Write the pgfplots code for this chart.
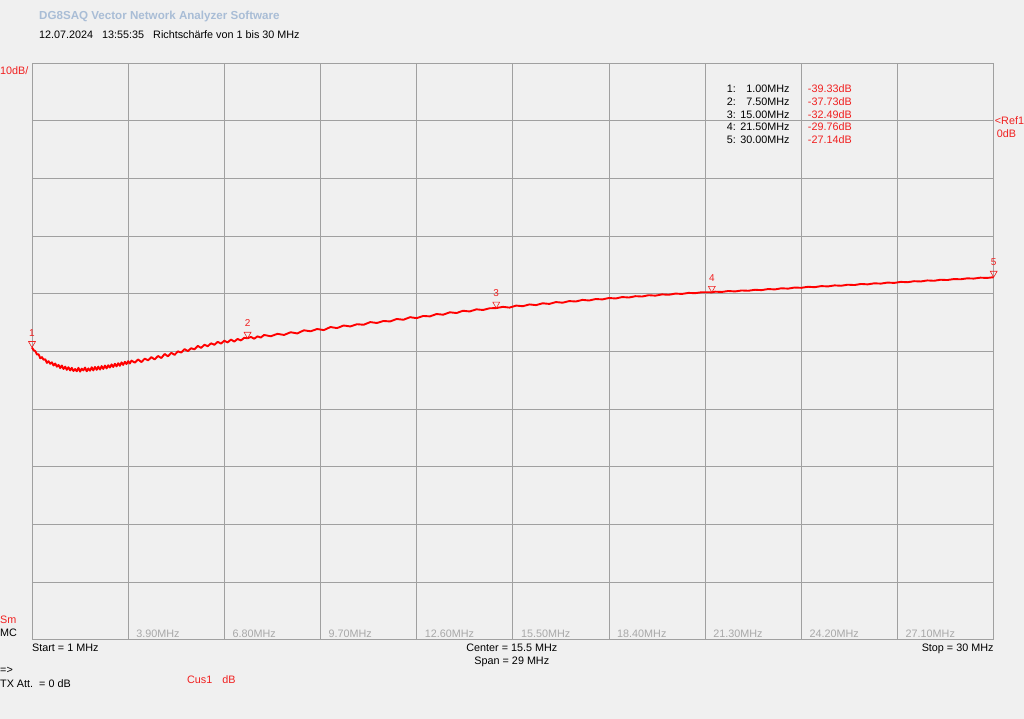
\documentclass[border=0pt]{standalone}
\usepackage{fontspec}
\setmainfont{Liberation Sans}
\usepackage{pgfplots}
\pgfplotsset{compat=1.18}
\definecolor{bg}{HTML}{F0F0F0}
\definecolor{gridc}{HTML}{A0A0A0}
\definecolor{tickc}{HTML}{A8A8A8}
\definecolor{titlec}{HTML}{A9BDD6}
\definecolor{mred}{HTML}{F02020}
\begin{document}
\begin{tikzpicture}[x=1pt,y=1pt,font=\fontsize{10.8}{12}\selectfont]
\fill[bg] (0,0) rectangle (1024,719);
\begin{axis}[
  at={(32pt,79pt)}, anchor=south west,
  scale only axis, width=962pt, height=577pt,
  xmin=1, xmax=30, ymin=-90, ymax=10,
  xtick={3.9,6.8,9.7,12.6,15.5,18.4,21.3,24.2,27.1},
  xticklabels={3.90MHz,6.80MHz,9.70MHz,12.60MHz,15.50MHz,18.40MHz,21.30MHz,24.20MHz,27.10MHz},
  xticklabel style={anchor=south west, xshift=6pt, yshift=0pt, inner sep=2pt, text=tickc, font=\fontsize{10.8}{12}\selectfont},
  ytick={-80,-70,...,0}, yticklabels={},
  major tick length=0pt,
  grid=major, major grid style={gridc, line width=0.9pt},
  axis line style={gridc, line width=0.9pt},
  clip=false,
  axis background/.style={fill=bg},
]
\addplot[red, line width=1.9pt, line join=round] table {
1.00 -39.33
1.05 -39.80
1.10 -39.95
1.15 -40.55
1.20 -40.50
1.25 -41.20
1.30 -41.00
1.35 -41.45
1.40 -41.35
1.45 -42.00
1.50 -41.70
1.55 -42.15
1.60 -41.90
1.65 -42.45
1.70 -42.10
1.75 -42.65
1.80 -42.35
1.85 -42.90
1.90 -42.45
1.95 -43.05
2.00 -42.65
2.05 -43.20
2.10 -42.75
2.15 -43.30
2.20 -42.85
2.25 -43.40
2.30 -43.05
2.35 -43.45
2.40 -42.85
2.45 -43.50
2.50 -43.00
2.55 -43.30
2.60 -42.80
2.65 -43.45
2.70 -42.95
2.75 -43.35
2.80 -42.75
2.85 -43.30
2.90 -42.70
2.95 -43.20
3.00 -42.65
3.05 -43.15
3.10 -42.55
3.15 -43.05
3.20 -42.45
3.25 -42.95
3.30 -42.40
3.35 -42.80
3.40 -42.25
3.45 -42.70
3.50 -42.15
3.55 -42.60
3.60 -42.05
3.65 -42.50
3.70 -41.90
3.75 -42.35
3.80 -41.80
3.85 -42.20
3.90 -41.70
3.95 -42.10
4.00 -41.60
4.1 -41.95
4.2 -41.40
4.3 -41.85
4.4 -41.25
4.5 -41.55
4.6 -41.00
4.7 -41.40
4.8 -40.80
4.9 -41.15
5.0 -40.45
5.1 -40.85
5.2 -40.25
5.3 -40.60
5.4 -40.00
5.5 -40.20
5.6 -39.60
5.7 -39.95
5.8 -39.45
5.9 -39.65
6.0 -39.05
6.1 -39.40
6.2 -38.85
6.3 -39.10
6.4 -38.60
6.5 -38.85
6.6 -38.35
6.7 -38.65
6.8 -38.15
6.9 -38.45
7.0 -37.95
7.1 -38.30
7.2 -37.85
7.3 -38.10
7.4 -37.65
7.5 -37.73
7.6 -37.50
7.7 -37.80
7.8 -37.40
7.9 -37.60
8.0 -37.15
8.2 -37.38
8.4 -36.96
8.6 -37.15
8.8 -36.68
9.0 -36.89
9.2 -36.34
9.4 -36.52
9.6 -36.12
9.8 -36.31
10.0 -35.78
10.2 -35.96
10.4 -35.51
10.6 -35.68
10.8 -35.29
11.0 -35.38
11.2 -34.92
11.4 -35.08
11.6 -34.73
11.8 -34.81
12.0 -34.38
12.2 -34.52
12.4 -34.07
12.6 -34.24
12.8 -33.86
13.0 -33.93
13.2 -33.52
13.4 -33.64
13.6 -33.22
13.8 -33.35
14.0 -32.96
14.2 -33.08
14.4 -32.71
14.6 -32.82
14.8 -32.53
15.0 -32.49
15.2 -32.28
15.4 -32.41
15.6 -32.06
15.8 -32.17
16.0 -31.86
16.2 -31.98
16.4 -31.66
16.6 -31.77
16.8 -31.45
17.0 -31.56
17.2 -31.28
17.4 -31.35
17.6 -31.07
17.8 -31.18
18.0 -30.92
18.2 -30.99
18.4 -30.74
18.6 -30.83
18.8 -30.58
19.0 -30.66
19.2 -30.43
19.4 -30.49
19.6 -30.26
19.8 -30.34
20.0 -30.12
20.2 -30.19
20.4 -29.98
20.6 -30.04
20.8 -29.86
21.0 -29.91
21.2 -29.74
21.5 -29.76
21.6 -29.65
21.8 -29.70
22.0 -29.53
22.2 -29.61
22.4 -29.44
22.6 -29.49
22.8 -29.32
23.0 -29.38
23.2 -29.19
23.4 -29.26
23.6 -29.06
23.8 -29.12
24.0 -28.93
24.2 -28.98
24.4 -28.80
24.6 -28.87
24.8 -28.68
25.0 -28.74
25.2 -28.56
25.4 -28.62
25.6 -28.44
25.8 -28.50
26.0 -28.31
26.2 -28.38
26.4 -28.20
26.6 -28.25
26.8 -28.07
27.0 -28.13
27.2 -27.95
27.4 -28.01
27.6 -27.83
27.8 -27.88
28.0 -27.70
28.2 -27.76
28.4 -27.58
28.6 -27.63
28.8 -27.46
29.0 -27.50
29.2 -27.34
29.4 -27.38
29.6 -27.22
29.8 -27.27
30.0 -27.14
};
\addplot[mred, only marks, mark=triangle, mark size=4pt, line width=0.6pt,
  mark options={yshift=4pt, rotate=180},
  nodes near coords, point meta=explicit symbolic,
  nodes near coords style={anchor=south, yshift=7pt, inner sep=0pt, text=mred, font=\fontsize{10}{11}\selectfont}]
  table[meta=lab] {
x y lab
1.0 -39.33 1
7.5 -37.73 2
15.0 -32.49 3
21.5 -29.76 4
30.0 -27.14 5
};
\end{axis}
% header
\node[anchor=base west, inner sep=0, text=titlec, font=\fontsize{11.6}{13}\selectfont\bfseries] at (39,699) {DG8SAQ Vector Network Analyzer Software};
\node[anchor=base west, inner sep=0] at (39,680) {12.07.2024\hspace{9pt}13:55:35\hspace{9pt}Richtschärfe von 1 bis 30 MHz};
\node[anchor=base west, inner sep=0, text=mred] at (0,644) {10dB/};
% marker table
\foreach \n/\f/\v/\yy in {1/1.00/-39.33/626, 2/7.50/-37.73/613, 3/15.00/-32.49/600, 4/21.50/-29.76/588, 5/30.00/-27.14/575}{
  \node[anchor=base west, inner sep=0] at (727,\yy) {\n:};
  \node[anchor=base east, inner sep=0] at (790,\yy) {\f MHz};
  \node[anchor=base west, inner sep=0, text=mred] at (808,\yy) {\v dB};
}
\node[anchor=base west, inner sep=0, text=mred] at (995,594) {<Ref1};
\node[anchor=base west, inner sep=0, text=mred] at (997,581) {0dB};
% left labels
\node[anchor=base west, inner sep=0, text=mred] at (0,95) {Sm};
\node[anchor=base west, inner sep=0] at (0,82) {MC};
% bottom
\node[anchor=base west, inner sep=0] at (32,67) {Start = 1 MHz};
\node[anchor=base, inner sep=0] at (512,67) {Center = 15.5 MHz};
\node[anchor=base, inner sep=0] at (512,54) {Span = 29 MHz};
\node[anchor=base east, inner sep=0] at (994,67) {Stop = 30 MHz};
\node[anchor=base west, inner sep=0] at (0,45) {=>};
\node[anchor=base west, inner sep=0] at (0,31) {TX Att.\ \ = 0 dB};
\node[anchor=base west, inner sep=0, text=mred] at (187,35) {Cus1\hspace{10pt}dB};
\end{tikzpicture}
\end{document}
